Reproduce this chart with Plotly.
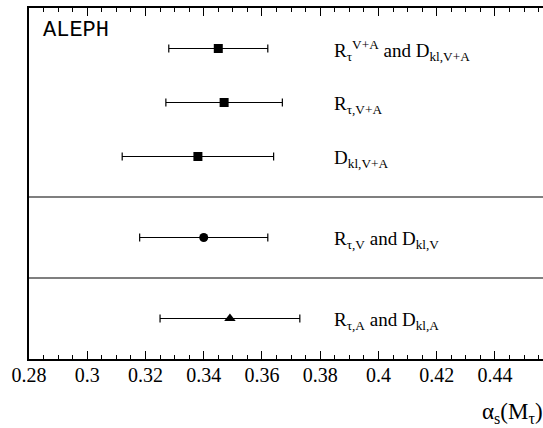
import plotly.graph_objects as go

# Data
labels = [
    "R<sub>τ</sub><sup>V+A</sup> and D<sub>kl,V+A</sub>",
    "R<sub>τ,V+A</sub>",
    "D<sub>kl,V+A</sub>",
    "R<sub>τ,V</sub> and D<sub>kl,V</sub>",
    "R<sub>τ,A</sub> and D<sub>kl,A</sub>",
]
alpha_s = [0.345, 0.347, 0.338, 0.340, 0.349]
err_lo = [0.017, 0.020, 0.026, 0.022, 0.024]
err_hi = [0.017, 0.020, 0.026, 0.022, 0.024]
row_pos = [0.75, 1.75, 2.75, 4.25, 5.75]
symbols = ["square", "square", "square", "circle", "triangle-up"]
dividers = [3.5, 5.0]
tick_vals = [0.28, 0.30, 0.32, 0.34, 0.36, 0.38, 0.40, 0.42, 0.44]
tick_text = ["0.28", "0.3", "0.32", "0.34", "0.36", "0.38", "0.4", "0.42", "0.44"]
label_x = 0.384

SERIF = "Times New Roman"
MONO = "Courier New"

fig = go.Figure()
for i in range(len(alpha_s)):
    fig.add_trace(go.Scatter(
        x=[alpha_s[i]], y=[row_pos[i]], mode="markers",
        marker=dict(symbol=symbols[i], size=9 if symbols[i] != "triangle-up" else 10, color="black"),
        error_x=dict(type="data", symmetric=False, array=[err_hi[i]], arrayminus=[err_lo[i]],
                     color="black", thickness=1.2, width=4),
        showlegend=False, hoverinfo="skip",
    ))
    fig.add_annotation(x=label_x, y=row_pos[i], xref="x", yref="y", text=labels[i],
                       showarrow=False, xanchor="left", yanchor="middle", yshift=-2,
                       font=dict(family=SERIF, size=19, color="black"))

for d in dividers:
    fig.add_shape(type="line", xref="paper", x0=0, x1=1, yref="y", y0=d, y1=d,
                  line=dict(color="black", width=1.2))

fig.add_annotation(x=0.024, y=0.935, xref="paper", yref="paper", text="ALEPH",
                   showarrow=False, xanchor="left", yanchor="middle",
                   font=dict(family=MONO, size=22, color="black"))

fig.add_annotation(x=1, y=-0.155, xref="paper", yref="paper",
                   text="α<sub>s</sub>(M<sub>τ</sub>)", showarrow=False,
                   xanchor="right", yanchor="middle", xshift=2,
                   font=dict(family=SERIF, size=23, color="black"))

fig.update_xaxes(range=[0.28, 0.4565], showgrid=False, zeroline=False,
                 showline=True, linecolor="black", linewidth=1.5, mirror="ticks",
                 ticks="inside", ticklen=8, tickwidth=1, tickcolor="black",
                 tickvals=tick_vals, ticktext=tick_text, ticklabelstandoff=-3,
                 minor=dict(ticks="inside", ticklen=4, dtick=0.005, tick0=0.28, tickcolor="black", tickwidth=1),
                 tickfont=dict(family=SERIF, size=20, color="black"))
fig.update_yaxes(range=[6.5, 0], showgrid=False, zeroline=False, showline=True,
                 linecolor="black", linewidth=1.5, showticklabels=False, ticks="")

fig.update_layout(width=543, height=428, margin=dict(l=29, r=0, t=8, b=69),
                  plot_bgcolor="white", paper_bgcolor="white",
                  font=dict(family=SERIF, color="black"))

fig.write_html("out.html")
